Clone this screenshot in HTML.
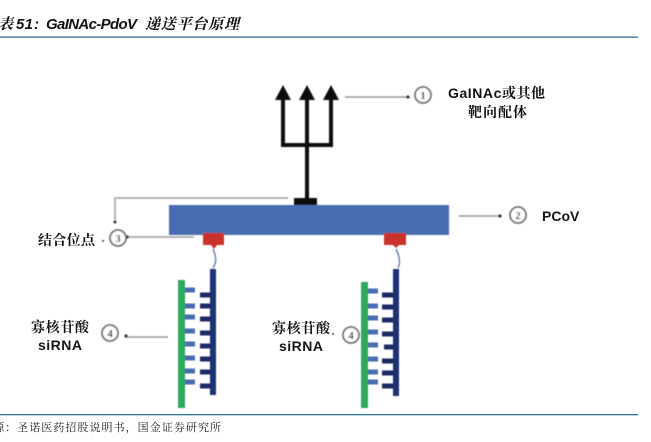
<!DOCTYPE html>
<html><head><meta charset="utf-8">
<style>
html,body{margin:0;padding:0;background:#fff}
body{width:651px;height:442px;overflow:hidden}
svg{display:block}
.cjk{font-family:"Liberation Sans","Noto Serif CJK SC",serif;font-weight:700;fill:#111}
.lat{font-family:"Liberation Sans",sans-serif;font-weight:700;fill:#151515}
.t{font-family:"Liberation Sans","Noto Serif CJK SC",serif;font-weight:700;font-style:italic;font-size:15px;fill:#111}
.f{font-family:"Liberation Serif","Noto Serif CJK SC",serif;font-size:11px;fill:#222}
.n{font-family:"Liberation Serif",serif;font-weight:700;font-size:11px;fill:#444;text-anchor:middle}
</style></head><body>
<svg width="651" height="442" viewBox="0 0 651 442" xmlns="http://www.w3.org/2000/svg">
<defs><filter id="b" x="-5%" y="-5%" width="110%" height="110%"><feGaussianBlur stdDeviation="0.4"/></filter></defs>
<rect width="651" height="442" fill="#fff"/>
<text class="t" x="-2" y="29">表</text>
<text class="t" x="16" y="29" textLength="17" lengthAdjust="spacing">51</text>
<text class="t" x="34" y="29">:</text>
<text class="t" x="46" y="29" textLength="91" lengthAdjust="spacing">GaINAc-PdoV</text>
<text class="t" x="145" y="29" textLength="94" lengthAdjust="spacing">递送平台原理</text>
<rect x="0" y="36.5" width="638" height="1.3" fill="#2f7192"/>
<rect x="0" y="414" width="638" height="1.3" fill="#2f7192"/>
<text class="f" x="-19" y="431" textLength="240" lengthAdjust="spacing">来源：圣诺医药招股说明书，国金证券研究所</text>

<g filter="url(#b)">
<!-- trident -->
<path d="M283 98V145H331V98M307 98V200" fill="none" stroke="#0a0a0a" stroke-width="4"/>
<path d="M283 85l8 15h-16zM307 85l8 15h-16zM331 85l8 15h-16z" fill="#0a0a0a"/>
<rect x="294" y="198" width="23" height="8" fill="#111"/>
<rect x="169" y="205" width="280" height="30" fill="#4a6db0"/>
<!-- gray leaders -->
<g fill="none" stroke="#999" stroke-width="1.4">
<path d="M288 198H115V220"/>
<path d="M345 97H407"/>
<path d="M459 216H499"/>
<path d="M127 237H194"/>
<path d="M126 337H168"/>
</g>
<g fill="#333">
<circle cx="115" cy="222" r="1.5"/>
<circle cx="408" cy="97" r="1.6"/>
<circle cx="500" cy="216" r="1.6"/>
<circle cx="127" cy="237" r="1.6"/>
<circle cx="126" cy="336" r="1.6"/>
<circle cx="103" cy="241" r="1"/>
<circle cx="333" cy="334" r="1"/>
</g>
<!-- numbered circles -->
<g fill="#fff" stroke="#707070" stroke-width="1.8">
<circle cx="423" cy="95" r="8"/>
<circle cx="518" cy="215" r="8"/>
<circle cx="118" cy="238" r="8"/>
<circle cx="110" cy="333" r="8"/>
<circle cx="351" cy="335" r="8"/>
</g>
<text class="n" x="423" y="99">1</text>
<text class="n" x="518" y="219">2</text>
<text class="n" x="118" y="242">3</text>
<text class="n" x="110" y="337">4</text>
<text class="n" x="351" y="339">4</text>
<!-- red connectors -->
<path d="M203 233H224V245H217L214 249L211 245H203Z" fill="#c9302c"/>
<path d="M384 233H406V245H399L396 248L393 245H384Z" fill="#c9302c"/>
<path d="M213 249C216 256 217 262 213 268" fill="none" stroke="#5f7fa8" stroke-width="1.4"/>
<path d="M396 249C399 255 401 262 398 268" fill="none" stroke="#5f7fa8" stroke-width="1.4"/>
<!-- left strand -->
<rect x="178" y="280" width="7" height="128" fill="#2fa75f"/>
<rect x="210" y="269" width="6" height="126" fill="#1f3272"/>
<g fill="#4a6db0">
<rect x="185" y="287.500" width="10" height="5"/><rect x="185" y="303.500" width="10" height="5"/><rect x="185" y="314.500" width="10" height="5"/><rect x="185" y="328.500" width="10" height="5"/><rect x="185" y="341.500" width="10" height="5"/><rect x="185" y="355.500" width="10" height="5"/><rect x="185" y="368.500" width="10" height="5"/><rect x="185" y="379.500" width="10" height="5"/>
</g>
<g fill="#1b2a63">
<rect x="200" y="292.500" width="10" height="5"/><rect x="200" y="303.500" width="10" height="5"/><rect x="200" y="316.500" width="10" height="5"/><rect x="200" y="330.500" width="10" height="5"/><rect x="200" y="343.500" width="10" height="5"/><rect x="200" y="356.500" width="10" height="5"/><rect x="200" y="369.500" width="10" height="5"/><rect x="200" y="383.500" width="10" height="5"/>
</g>
<!-- right strand -->
<rect x="361" y="282" width="7" height="126" fill="#2fa75f"/>
<rect x="393" y="269" width="6" height="127" fill="#1f3272"/>
<g fill="#4a6db0">
<rect x="368" y="288.500" width="10" height="5"/><rect x="368" y="303.500" width="10" height="5"/><rect x="368" y="315.500" width="10" height="5"/><rect x="368" y="329.500" width="10" height="5"/><rect x="368" y="342.500" width="10" height="5"/><rect x="368" y="356.500" width="10" height="5"/><rect x="368" y="369.500" width="10" height="5"/><rect x="368" y="379.500" width="10" height="5"/>
</g>
<g fill="#1b2a63">
<rect x="382" y="292.500" width="11" height="5"/><rect x="382" y="304.500" width="11" height="5"/><rect x="382" y="317.500" width="11" height="5"/><rect x="382" y="331.500" width="11" height="5"/><rect x="384" y="344.500" width="9" height="5"/><rect x="382" y="358.500" width="11" height="5"/><rect x="382" y="370.500" width="11" height="5"/><rect x="382" y="383.500" width="11" height="5"/>
</g>
</g>
<!-- labels -->
<text class="cjk" x="448" y="98" font-size="14" textLength="97" lengthAdjust="spacing">GaINAc或其他</text>
<text class="cjk" x="468" y="117" font-size="14" textLength="59" lengthAdjust="spacing">靶向配体</text>
<text class="lat" x="542" y="221" font-size="14">PCoV</text>
<text class="cjk" x="38" y="245" font-size="14" textLength="57" lengthAdjust="spacing">结合位点</text>
<text class="cjk" x="31" y="332" font-size="14" textLength="58" lengthAdjust="spacing">寡核苷酸</text>
<text class="lat" x="38" y="350" font-size="14" textLength="44" lengthAdjust="spacing">siRNA</text>
<text class="cjk" x="272" y="333" font-size="14" textLength="58" lengthAdjust="spacing">寡核苷酸</text>
<text class="lat" x="279" y="351" font-size="14" textLength="44" lengthAdjust="spacing">siRNA</text>
</svg>
</body></html>
